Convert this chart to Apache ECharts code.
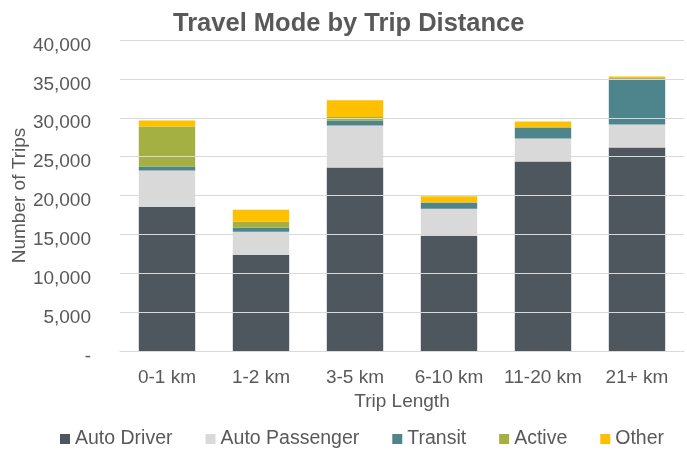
<!DOCTYPE html>
<html>
<head>
<meta charset="utf-8">
<script src="https://cdn.jsdelivr.net/npm/echarts@6/dist/echarts.min.js"></script>
<style>
  html, body { margin: 0; padding: 0; background: #fff; }
  #chart { width: 687px; height: 450px; }
</style>
</head>
<body>
<div id="chart"></div>
<script>
// categories and trips by mode
var tripLength = ['0-1 km', '1-2 km', '3-5 km', '6-10 km', '11-20 km', '21+ km'];
var autoDriver = [18560, 12380, 23590, 14830, 24370, 26170];
var autoPassenger = [4640, 2960, 5410, 3480, 2960, 2960];
var transit = [520, 520, 650, 770, 1420, 5930];
var active = [5160, 770, 450, 40, 40, 40];
var other = [770, 1550, 2150, 770, 730, 220];

var textColor = '#595959';
var font = 'Liberation Sans, Arial, sans-serif';

function bar(name, data, color) {
    return {
        name: name,
        type: 'bar',
        stack: 'trips',
        barWidth: '60%',
        data: data,
        itemStyle: { color: color }
    };
}

var myChart = echarts.init(document.getElementById('chart'));
myChart.setOption({
    animation: false,
    textStyle: { fontFamily: font },
    title: {
        text: 'Travel Mode by Trip Distance',
        left: 168,
        top: 6,
        textStyle: { color: textColor, fontSize: 25.5, fontWeight: 'bold', fontFamily: font }
    },
    legend: {
        top: 424,
        left: 55,
        itemWidth: 10,
        itemHeight: 10,
        itemGap: 33,
        icon: 'rect',
        textStyle: { color: textColor, fontSize: 19.5, fontFamily: font },
        data: ['Auto Driver', 'Auto Passenger', 'Transit', 'Active', 'Other']
    },
    grid: {
        left: 120,
        right: 3,
        top: 40,
        bottom: 99,
        outerBoundsMode: 'none'
    },
    xAxis: {
        type: 'category',
        data: tripLength,
        name: 'Trip Length',
        nameLocation: 'middle',
        nameGap: 41,
        nameTextStyle: { color: textColor, fontSize: 19 },
        axisTick: { show: false },
        axisLine: { lineStyle: { color: '#d9d9d9' } },
        axisLabel: { color: textColor, fontSize: 19, margin: 17, interval: 0 }
    },
    /* Y axis, gridlines drawn over the bars like the original */
    yAxis: {
        type: 'value',
        z: 5,
        min: 0,
        max: 40000,
        interval: 5000,
        name: 'Number of Trips',
        nameLocation: 'middle',
        nameGap: 91,
        nameMoveOverlap: false,
        nameTextStyle: { color: textColor, fontSize: 19 },
        axisLine: { show: false },
        axisTick: { show: false },
        axisLabel: {
            color: textColor,
            fontSize: 19,
            margin: 29,
            verticalAlign: 'top',
            lineHeight: 11,
            formatter: function (v) {
                return v === 0 ? '-' : v.toLocaleString('en-US');
            }
        },
        splitLine: { lineStyle: { color: '#d9d9d9', width: 1 } }
    },
    series: [
        bar('Auto Driver', autoDriver, '#4d575d'),
        bar('Auto Passenger', autoPassenger, '#d9d9d9'),
        bar('Transit', transit, '#4e858c'),
        bar('Active', active, '#a5b042'),
        bar('Other', other, '#ffc000')
    ]
});
</script>
</body>
</html>
